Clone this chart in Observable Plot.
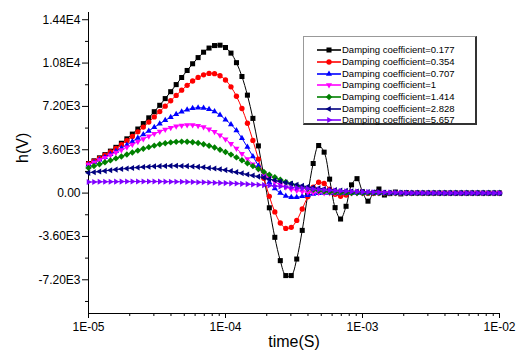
<!DOCTYPE html>
<html><head><meta charset="utf-8">
<script src="https://cdn.jsdelivr.net/npm/d3@7"></script>
<script src="https://cdn.jsdelivr.net/npm/@observablehq/plot@0.6"></script>
<style>
body{margin:0;background:#fff}
#wrap{position:relative;width:525px;height:360px;font-family:"Liberation Sans",Arial,sans-serif;color:#000}
#legend{position:absolute;left:303px;top:36px;width:171px;height:86px;border:1px solid #999;border-right:2px solid #333;border-bottom:2px solid #333;background:#fff}
.row{position:absolute;height:12px;font-size:9.5px;line-height:12px;white-space:nowrap}
.sw{position:absolute;top:0}
</style></head><body><div id="wrap"></div>
<script>
// time samples, log10 seconds
const timeExp = [
-5.00,-4.96,-4.92,-4.88,-4.84,-4.80,-4.76,-4.72,-4.68,-4.64,
-4.60,-4.56,-4.52,-4.48,-4.44,-4.40,-4.36,-4.32,-4.28,-4.24,
-4.20,-4.16,-4.12,-4.08,-4.04,-4.00,-3.96,-3.92,-3.88,-3.84,
-3.80,-3.76,-3.72,-3.68,-3.64,-3.60,-3.56,-3.52,-3.48,-3.44,
-3.40,-3.36,-3.32,-3.28,-3.24,-3.20,-3.16,-3.12,-3.08,-3.04,
-3.00,-2.96,-2.92,-2.88,-2.84,-2.80,-2.76,-2.72,-2.68,-2.64,
-2.60,-2.56,-2.52,-2.48,-2.44,-2.40,-2.36,-2.32,-2.28,-2.24,
-2.20,-2.16,-2.12,-2.08,-2.04,-2.00];

const h0177 = [
2455,2682,2928,3196,3487,3801,4140,4507,4900,5322,
5773,6252,6760,7292,7849,8423,9012,9601,10185,10742,
11254,11703,12047,12254,12283,12092,11626,10834,9685,8136,
6205,3920,1389,-1220,-3673,-5609,-6850,-6850,-5477,-3096,
-167,2459,3950,3400,1158,-1206,-2153,-1096,685,1200,
100,-670,13,340,-158,-40,87,-64,37,-21,
10,-5,0,0,0,0,0,0,0,0,
0,0,0,0,0,0];
const h0354 = [
2436,2654,2889,3143,3415,3708,4021,4356,4710,5086,
5482,5895,6326,6768,7218,7669,8116,8547,8950,9308,
9605,9821,9939,9923,9749,9391,8827,8044,7029,5799,
4379,2824,1234,-272,-1560,-2482,-2930,-2841,-2268,-1323,
-309,497,900,800,331,-93,-262,-158,20,77,
18,-23,-10,0,0,0,0,0,0,0,
0,0,0,0,0,0,0,0,0,0,
0,0,0,0,0,0];
const h0707 = [
2356,2553,2762,2984,3220,3468,3728,4000,4282,4573,
4869,5168,5467,5761,6043,6308,6549,6758,6925,7038,
7092,7070,6965,6772,6481,6091,5700,5200,4550,3820,
3050,2280,1540,900,380,3,-232,-335,-337,-269,
-173,-83,-20,11,17,11,4,0,0,0,
0,0,0,0,0,0,0,0,0,0,
0,0,0,0,0,0,0,0,0,0,
0,0,0,0,0,0];
const h1 = [
2368,2550,2742,2943,3152,3368,3590,3816,4044,4272,
4496,4714,4921,5113,5284,5431,5546,5625,5663,5654,
5594,5481,5312,5087,4808,4480,4109,3704,3278,2840,
2406,1988,1598,1248,942,686,481,322,206,125,
72,39,19,9,4,0,0,0,0,0,
0,0,0,0,0,0,0,0,0,0,
0,0,0,0,0,0,0,0,0,0,
0,0,0,0,0,0];
const h1414 = [
2094,2243,2397,2555,2717,2882,3047,3212,3373,3530,
3678,3817,3943,4052,4143,4212,4257,4276,4266,4228,
4159,4062,3936,3784,3607,3410,3196,2967,2729,2486,
2241,1998,1761,1532,1315,1112,925,756,605,475,
364,272,197,139,95,62,39,23,13,7,
4,2,0,0,0,0,0,0,0,0,
0,0,0,0,0,0,0,0,0,0,
0,0,0,0,0,0];
const h2828 = [
1680,1735,1790,1845,1900,1950,2000,2045,2090,2125,
2160,2190,2220,2240,2255,2262,2265,2255,2240,2215,
2180,2140,2090,2040,1980,1910,1830,1740,1645,1550,
1460,1370,1280,1170,1060,970,880,790,700,615,
530,460,400,345,300,260,220,190,160,135,
110,90,70,55,45,35,25,20,15,11,
8,5,3,2,0,0,0,0,0,0,
0,0,0,0,0,0];
const h5657 = [
920,928,935,942,948,952,955,958,960,960,
960,959,957,955,952,948,943,937,930,920,
908,895,880,865,848,830,810,790,768,745,
720,690,660,625,590,550,510,470,430,395,
360,325,290,260,230,205,180,160,140,120,
100,85,70,58,45,37,30,24,18,14,
10,7,5,3,2,0,0,0,0,0,
0,0,0,0,0,0];

const seriesNames = ["Damping coefficient=0.177","Damping coefficient=0.354","Damping coefficient=0.707","Damping coefficient=1","Damping coefficient=1.414","Damping coefficient=2.828","Damping coefficient=5.657"];
const seriesValues = [h0177,h0354,h0707,h1,h1414,h2828,h5657];
const seriesColors = ["#000000","#ff0000","#0000ff","#ff00ff","#008000","#000080","#8000ff"];

const yMajorTicks = [-7200,-3600,0,3600,7200,10800,14400];
const yTickLabels = ["-7.20E3","-3.60E3","0.00","3.60E3","7.20E3","1.08E4","1.44E4"];
const yMinorTicks = [-9000,-5400,-1800,1800,5400,9000,12600];
const xMajorTicks = [1e-5,1e-4,1e-3,1e-2];
const xTickLabels = ["1E-05","1E-04","1E-03","1E-02"];
const xMinorTicks = [2e-5,3e-5,4e-5,5e-5,6e-5,7e-5,8e-5,9e-5,2e-4,3e-4,4e-4,5e-4,6e-4,7e-4,8e-4,9e-4,2e-3,3e-3,4e-3,5e-3,6e-3,7e-3,8e-3,9e-3];

// marker shapes
function tri(rot){return {draw(ctx,size){const r=Math.sqrt(size/Math.PI)*1.25;for(let j=0;j<3;j++){const a=rot+j*2*Math.PI/3;const x=r*Math.sin(a),y=-r*Math.cos(a);if(j)ctx.lineTo(x,y);else ctx.moveTo(x,y);}ctx.closePath();}};}
const sqr={draw(ctx,size){const h=Math.sqrt(size/Math.PI)*0.9;ctx.rect(-h,-h,2*h,2*h);}};
const circ={draw(ctx,size){const r=Math.sqrt(size/Math.PI)*0.95;ctx.moveTo(r,0);ctx.arc(0,0,r,0,2*Math.PI);}};
const dia={draw(ctx,size){const r=Math.sqrt(size/Math.PI)*1.15;ctx.moveTo(0,-r);ctx.lineTo(r,0);ctx.lineTo(0,r);ctx.lineTo(-r,0);ctx.closePath();}};
const symbols=[sqr,circ,tri(0),tri(Math.PI),dia,tri(-Math.PI/2),tri(Math.PI/2)];
const R=2.8;

const table = timeExp.map((e,i)=>{const o={t:Math.pow(10,e)};seriesValues.forEach((s,j)=>o["s"+j]=s[i]);return o;});

const marks=[
  Plot.axisY(yMinorTicks,{tickSize:3,tickFormat:()=>"",label:null}),
  Plot.axisY(yMajorTicks,{tickSize:6,tickPadding:2,tickFormat:d=>yTickLabels[yMajorTicks.indexOf(d)],label:null,fontSize:12}),
  Plot.axisX(xMinorTicks,{tickSize:3,tickFormat:()=>"",label:null}),
  Plot.axisX(xMajorTicks,{tickSize:5,tickPadding:4,tickFormat:d=>xTickLabels[xMajorTicks.indexOf(d)],label:null,fontSize:12}),
  Plot.ruleX([1e-5],{stroke:"#000"}),
  Plot.ruleY([-10000],{stroke:"#000"})
];
seriesValues.forEach((s,j)=>{
  marks.push(Plot.line(table,{x:"t",y:"s"+j,stroke:seriesColors[j],strokeWidth:1,curve:"catmull-rom"}));
  marks.push(Plot.dot(table,{x:"t",y:"s"+j,fill:seriesColors[j],r:R,symbol:symbols[j]}));
});
marks.push(Plot.text(["time(S)"],{frameAnchor:"bottom",dy:33,fontSize:16}));
marks.push(Plot.text(["h(V)"],{frameAnchor:"left",dx:-66,rotate:-90,fontSize:16}));

const chart = Plot.plot({
  width:525,height:360,marginLeft:88,marginRight:26,marginTop:12,marginBottom:47,
  style:{fontFamily:"Liberation Sans, Arial, sans-serif",fontSize:"12px",color:"#000",background:"#fff"},
  x:{type:"log",domain:[1e-5,1e-2]},
  y:{domain:[-10000,15000]},
  marks
});
const wrap=document.getElementById("wrap");
wrap.appendChild(chart);

const leg=document.createElement("div");leg.id="legend";wrap.appendChild(leg);
seriesNames.forEach((name,i)=>{
  const top=7.2+i*11.7;
  const sw=document.createElementNS("http://www.w3.org/2000/svg","svg");
  sw.setAttribute("width",24);sw.setAttribute("height",12);
  sw.setAttribute("class","sw");sw.style.left="13px";sw.style.top=top+"px";sw.style.position="absolute";
  const ln=document.createElementNS("http://www.w3.org/2000/svg","line");
  ln.setAttribute("x1",0);ln.setAttribute("x2",24);ln.setAttribute("y1",6);ln.setAttribute("y2",6);
  ln.setAttribute("stroke",seriesColors[i]);ln.setAttribute("stroke-width",1.6);sw.appendChild(ln);
  const p=document.createElementNS("http://www.w3.org/2000/svg","path");
  p.setAttribute("d",d3.symbol(symbols[i],Math.PI*R*R)());
  p.setAttribute("transform","translate(12,6)");p.setAttribute("fill",seriesColors[i]);sw.appendChild(p);
  leg.appendChild(sw);
  const tx=document.createElement("div");tx.className="row";tx.style.left="38px";tx.style.top=top+"px";tx.textContent=name;
  leg.appendChild(tx);
});
</script></body></html>
